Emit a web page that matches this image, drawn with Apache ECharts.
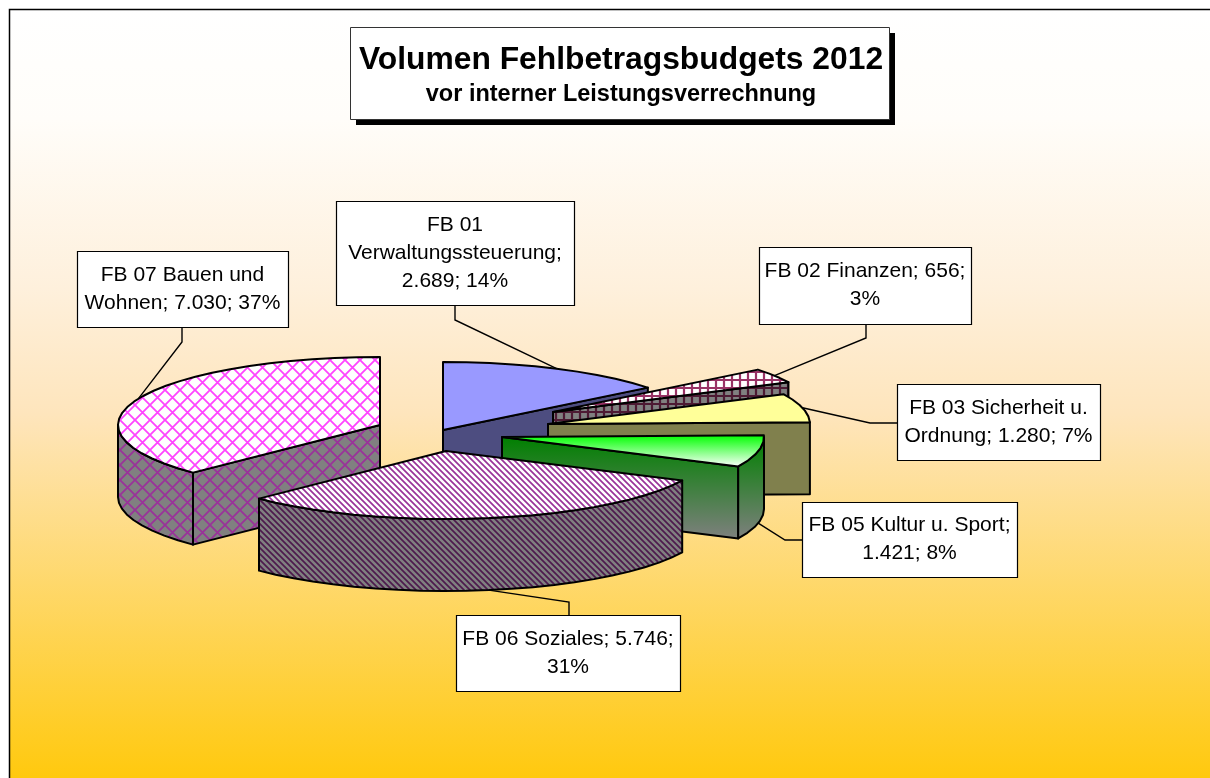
<!DOCTYPE html>
<html>
<head>
<meta charset="utf-8">
<style>html,body{margin:0;padding:0;background:#fff}#c{width:1210px;height:778px}</style>
<script src="https://cdn.jsdelivr.net/npm/echarts@6/dist/echarts.min.js"></script>
</head>
<body>
<div id="c"></div>
<script>
// ---------- data ----------
const categories = ['FB 01 Verwaltungssteuerung','FB 02 Finanzen','FB 03 Sicherheit u. Ordnung','FB 05 Kultur u. Sport','FB 06 Soziales','FB 07 Bauen und Wohnen'];
const budgetValues = [2689,656,1280,1421,5746,7030];
const titleText = 'Volumen Fehlbetragsbudgets 2012';
const subtitleText = 'vor interner Leistungsverrechnung';

// ---------- layout & style ----------
const RX = 262, RY = 68, DEPTH = 72, CX = 432, CY = 431;
const explodeX = [11,121,116,70,14,-52];
const explodeY = [-1,-19,-7,6,20,-6];
const paintOrder = [5,0,1,2,3,4];
const labelBoxes = [[336,201,238,104],[759,247,212,77],[897,384,203,76],[802,502,215,75],[456,615,224,76],[77,251,211,76]];
const labelElbows = [[455,305,455,320],[866,324,866,338],[897,423,870,423],[802,540,785,540],[569,615,569,602],[182,327,182,342]];
const labelTemplates = ['FB 01\nVerwaltungssteuerung;\n{v}; {p}','FB 02 Finanzen; {v};\n{p}','FB 03 Sicherheit u.\nOrdnung; {v}; {p}','FB 05 Kultur u. Sport;\n{v}; {p}','FB 06 Soziales; {v};\n{p}','FB 07 Bauen und\nWohnen; {v}; {p}'];

function tile(size, bg, color, lw, kind){
  const c = document.createElement('canvas'); c.width = c.height = size;
  const g = c.getContext('2d');
  g.fillStyle = bg; g.fillRect(0,0,size,size);
  g.strokeStyle = color; g.lineWidth = lw;
  g.beginPath();
  if (kind === 'lattice' || kind === 'stripe') { g.moveTo(-2,-2); g.lineTo(size+2,size+2); g.moveTo(-2,size-2); g.lineTo(2,size+2); g.moveTo(size-2,-2); g.lineTo(size+2,2); }
  if (kind === 'lattice') { g.moveTo(size+2,-2); g.lineTo(-2,size+2); g.moveTo(2,-2); g.lineTo(-2,2); g.moveTo(size+2,size-2); g.lineTo(size-2,size+2); }
  if (kind === 'plaid') { g.moveTo(size/2,0); g.lineTo(size/2,size); g.moveTo(0,size/2); g.lineTo(size,size/2); }
  g.stroke();
  return {image:c, repeat:'repeat'};
}
const vGrad = (y1,y2,a,b)=>({type:'linear',x:0,y:y1,x2:0,y2:y2,global:true,colorStops:[{offset:0,color:a},{offset:1,color:b}]});
const topFill = [
  '#9999FF',
  tile(8,'#FFFFFF','#993366',2.2,'plaid'),
  '#FFFF99',
  vGrad(435,467,'#00FF00','#FFFFFF'),
  tile(6,'#FFFFFF','#993399',1.7,'stripe'),
  tile(15,'#FFFFFF','#FF44FF',1.8,'lattice')
];
const sideFill = [
  '#4D4D80',
  tile(8,'#808080','#4D1A33',2.2,'plaid'),
  '#80804D',
  vGrad(437,540,'#008000','#808080'),
  tile(6,'#808080','#4D1A4D',1.7,'stripe'),
  tile(15,'#808080','#993399',1.8,'lattice')
];

const total = budgetValues.reduce((a,b)=>a+b,0);
const startAngles = []; budgetValues.reduce((acc,v,i)=>{startAngles[i]=acc; return acc+v/total*360;},0);
const fmt = v => String(v).replace(/\B(?=(\d{3})+$)/g,'.');
const rad = d => d*Math.PI/180;

function renderSlice(params, api){
  const i = api.value(0), v = api.value(1);
  const s = startAngles[i], e = s + v/total*360;
  const ax = CX + explodeX[i], ay = CY + explodeY[i];
  const P = (deg,dz)=>[ax+RX*Math.sin(rad(deg)), ay-RY*Math.cos(rad(deg))+(dz||0)];
  const arc = (a,b,dz)=>{const pts=[],n=Math.max(1,Math.round((b-a)/5));for(let k=0;k<=n;k++)pts.push(P(a+(b-a)*k/n,dz));return pts;};
  const lineStyle = {stroke:'#000',lineWidth:2,lineJoin:'round'};
  const poly = (pts,fill,z)=>({type:'polygon',shape:{points:pts},style:Object.assign({fill:fill},lineStyle),z2:z});
  const children = [];
  const base = params.dataIndex*10;
  const a0=[ax,ay], a1=[ax,ay+DEPTH];
  // radial walls that face the viewer
  if (Math.sin(rad(e))>1e-6) children.push(poly([a0,P(e),P(e,DEPTH),a1],sideFill[i],base+1));
  if (Math.sin(rad(s))<-1e-6) children.push(poly([a0,P(s),P(s,DEPTH),a1],sideFill[i],base+1));
  // rim wall: the front half of the ellipse
  const r0=Math.max(s,90), r1=Math.min(e,270);
  if (r1>r0) children.push(poly(arc(r0,r1,0).concat(arc(r0,r1,DEPTH).reverse()),sideFill[i],base+2));
  // top face
  children.push(poly([a0].concat(arc(s,e,0)),topFill[i],base+3));
  // leader and label
  const mid=(s+e)/2, anchor=P(mid, mid>90&&mid<270?DEPTH:0);
  const el=labelElbows[i], b=labelBoxes[i];
  children.push({type:'polyline',shape:{points:[[el[0],el[1]],[el[2],el[3]],anchor]},style:{stroke:'#000',lineWidth:1.4,fill:null},z2:200});
  const txt=labelTemplates[i].replace('{v}',fmt(v)).replace('{p}',Math.round(v/total*100)+'%');
  children.push({type:'rect',shape:{x:b[0]+0.5,y:b[1]+0.5,width:b[2],height:b[3]},style:{fill:'#fff',stroke:'#000',lineWidth:1.2},z2:201});
  children.push({type:'text',style:{x:b[0]+b[2]/2,y:b[1]+b[3]/2,text:txt,align:'center',verticalAlign:'middle',fontFamily:'Liberation Sans',fontSize:21,lineHeight:28,fill:'#000'},z2:202});
  return {type:'group',children:children};
}

const chart = echarts.init(document.getElementById('c'),null,{renderer:'canvas'});
chart.setOption({
  animation:false,
  backgroundColor:'#fff',
  title:{
    text:titleText, subtext:subtitleText, left:616, top:38, textAlign:'center', itemGap:6,
    textStyle:{fontFamily:'Liberation Sans',fontWeight:'bold',fontSize:31.8,color:'#000',lineHeight:34},
    subtextStyle:{fontFamily:'Liberation Sans',fontWeight:'bold',fontSize:23.5,color:'#000',lineHeight:24}
  },
  graphic:[
    {type:'rect',z:0,silent:true,shape:{x:9.5,y:9.5,width:1220,height:790},style:{stroke:'#000',lineWidth:1.5,fill:{type:'linear',x:0,y:9,x2:0,y2:778,global:true,colorStops:[{offset:0,color:'#FFFFFF'},{offset:0.144,color:'#FFFDF9'},{offset:0.363,color:'#FEF0DC'},{offset:0.527,color:'#FEE5BC'},{offset:1,color:'#FFC90E'}]}}},
    {type:'rect',z:1,silent:true,shape:{x:356,y:33,width:539,height:92},style:{fill:'#000'}},
    {type:'rect',z:1,silent:true,shape:{x:350.5,y:27.5,width:539,height:92},style:{fill:'#fff',stroke:'#333',lineWidth:1}}
  ],
  series:[{
    type:'custom',coordinateSystem:'none',silent:true,clip:false,
    renderItem:renderSlice,
    data:paintOrder.map(i=>({name:categories[i],value:[i,budgetValues[i]]}))
  }]
});
</script>
</body>
</html>
